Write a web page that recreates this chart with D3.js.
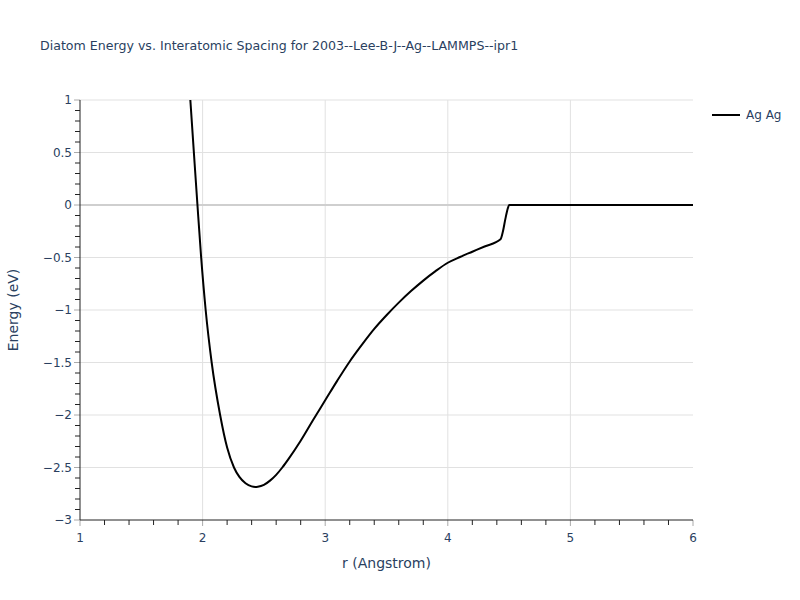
<!DOCTYPE html>
<html><head><meta charset="utf-8">
<script src="https://cdn.jsdelivr.net/npm/d3@7"></script>
<style>body{margin:0;background:#fff}svg{font-family:"DejaVu Sans",Verdana,sans-serif}</style>
</head><body><svg id="c" width="800" height="600"></svg>
<script>
const title = "Diatom Energy vs. Interatomic Spacing for 2003--Lee-B-J--Ag--LAMMPS--ipr1";
const seriesName = "Ag Ag";
const rValues = [1.88,1.90,1.93,1.958,1.987,2.025,2.074,2.143,2.2,2.256,2.3,2.35,2.4,2.43,2.45,2.5,2.55,2.6,2.65,2.7,2.8,2.9,3.0,3.1,3.2,3.3,3.4,3.5,3.6,3.7,3.8,3.9,4.0,4.1,4.2,4.3,4.43,4.45,4.47,4.49,4.5,5.0,5.5,6.0];
const energies = [1.35,1.0,0.48,0.0,-0.48,-1.0,-1.5,-2.0,-2.31,-2.5,-2.59,-2.65,-2.68,-2.685,-2.683,-2.665,-2.625,-2.57,-2.5,-2.42,-2.245,-2.05,-1.86,-1.67,-1.49,-1.33,-1.18,-1.05,-0.93,-0.82,-0.72,-0.63,-0.55,-0.495,-0.445,-0.395,-0.327,-0.25,-0.13,-0.03,0,0,0,0];
const xTicks = [1,2,3,4,5,6];
const yTicks = [1,0.5,0,-0.5,-1,-1.5,-2,-2.5,-3];

const svg = d3.select("#c");
const m = {l:80, r:693, t:100, b:520};
const x = d3.scaleLinear().domain([1,6]).range([m.l,m.r]);
const y = d3.scaleLinear().domain([-3,1]).range([m.b,m.t]);
const fmt = v => (v<0 ? "\u2212" : "") + Math.abs(v);
const txt = "#2a3f5f";

// grid
svg.append("g").selectAll("line").data(xTicks.filter(v=>v>1&&v<6)).join("line")
  .attr("x1",d=>x(d)).attr("x2",d=>x(d)).attr("y1",m.t).attr("y2",m.b)
  .attr("stroke","#e1e1e1").attr("stroke-width",1);
svg.append("g").selectAll("line").data(yTicks.filter(v=>v!==0&&v>-3)).join("line")
  .attr("x1",m.l).attr("x2",m.r).attr("y1",d=>y(d)).attr("y2",d=>y(d))
  .attr("stroke","#e1e1e1").attr("stroke-width",1);
svg.append("line").attr("x1",m.l).attr("x2",m.r).attr("y1",y(0)).attr("y2",y(0))
  .attr("stroke","#cfcfcf").attr("stroke-width",2);

// minor ticks
const xMinor = d3.range(1,6.001,0.2).filter(v=>Math.abs(v-Math.round(v))>1e-6);
const yMinor = d3.range(-3,1.001,0.1).filter(v=>Math.abs(v*2-Math.round(v*2))>1e-6);
svg.append("g").selectAll("line").data(xMinor).join("line")
  .attr("x1",d=>x(d)).attr("x2",d=>x(d)).attr("y1",m.b).attr("y2",m.b+5)
  .attr("stroke","#222").attr("stroke-width",1);
svg.append("g").selectAll("line").data(yMinor).join("line")
  .attr("x1",m.l-5).attr("x2",m.l).attr("y1",d=>y(d)).attr("y2",d=>y(d))
  .attr("stroke","#222").attr("stroke-width",1);
// major ticks
svg.append("g").selectAll("line").data(xTicks).join("line")
  .attr("x1",d=>x(d)).attr("x2",d=>x(d)).attr("y1",m.b).attr("y2",m.b+6)
  .attr("stroke","#aaa").attr("stroke-width",1);
svg.append("g").selectAll("line").data(yTicks).join("line")
  .attr("x1",m.l-6).attr("x2",m.l).attr("y1",d=>y(d)).attr("y2",d=>y(d))
  .attr("stroke","#aaa").attr("stroke-width",1);

// axis lines
svg.append("line").attr("x1",m.l).attr("x2",m.l).attr("y1",m.t).attr("y2",m.b).attr("stroke","#222");
svg.append("line").attr("x1",m.l).attr("x2",m.r).attr("y1",m.b).attr("y2",m.b).attr("stroke","#222");

// tick labels
svg.append("g").selectAll("text").data(xTicks).join("text")
  .attr("x",d=>x(d)).attr("y",m.b+22).attr("text-anchor","middle")
  .attr("font-size",12).attr("fill",txt).text(fmt);
svg.append("g").selectAll("text").data(yTicks).join("text")
  .attr("x",m.l-8).attr("y",d=>y(d)+4).attr("text-anchor","end")
  .attr("font-size",12).attr("fill",txt).text(fmt);

// titles
svg.append("text").attr("x",40).attr("y",50).attr("font-size",12.6).attr("fill",txt).text(title);
svg.append("text").attr("x",(m.l+m.r)/2).attr("y",568).attr("text-anchor","middle")
  .attr("font-size",14).attr("fill",txt).text("r (Angstrom)");
svg.append("text").attr("transform",`translate(18,${(m.t+m.b)/2}) rotate(-90)`)
  .attr("text-anchor","middle").attr("font-size",14).attr("fill",txt).text("Energy (eV)");

// clip + line
svg.append("clipPath").attr("id","pc").append("rect")
  .attr("x",m.l).attr("y",m.t).attr("width",m.r-m.l).attr("height",m.b-m.t);
const pts = rValues.map((r,i)=>[r,energies[i]]);
svg.append("path").datum(pts).attr("clip-path","url(#pc)")
  .attr("d",d3.line().x(d=>x(d[0])).y(d=>y(d[1])).curve(d3.curveMonotoneX))
  .attr("fill","none").attr("stroke","#000").attr("stroke-width",2);

// legend
svg.append("line").attr("x1",712).attr("x2",740).attr("y1",115).attr("y2",115)
  .attr("stroke","#000").attr("stroke-width",2);
svg.append("text").attr("x",746).attr("y",119).attr("font-size",12).attr("fill",txt).text(seriesName);
</script></body></html>
